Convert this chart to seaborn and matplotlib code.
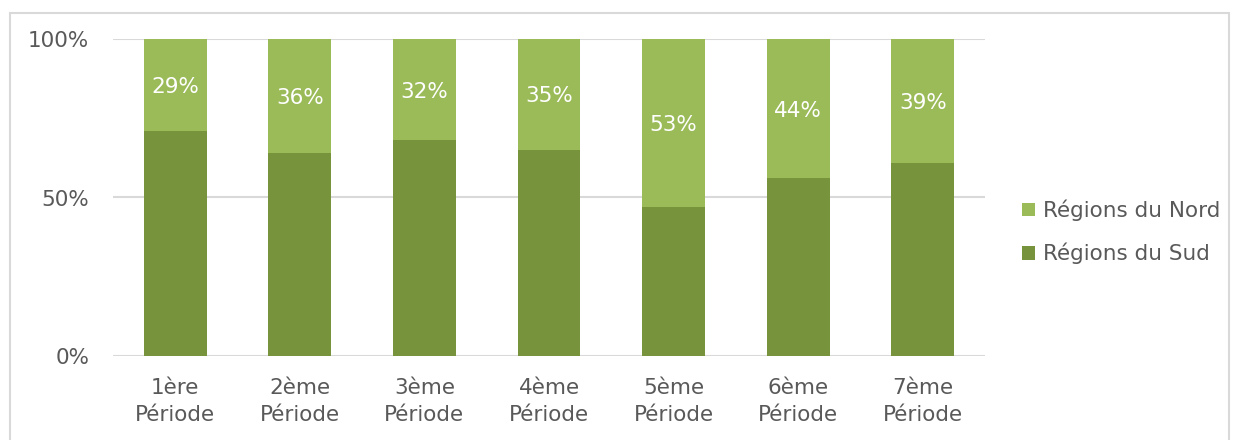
import matplotlib
matplotlib.use("Agg")
import matplotlib.pyplot as plt
import seaborn as sns
import pandas as pd
from matplotlib.patches import Patch, Rectangle
from matplotlib.ticker import PercentFormatter

# Data: share of each region group per period (percent)
periods = ["1ère\nPériode", "2ème\nPériode", "3ème\nPériode", "4ème\nPériode",
           "5ème\nPériode", "6ème\nPériode", "7ème\nPériode"]
nord = [29, 36, 32, 35, 53, 44, 39]
sud = [71, 64, 68, 65, 47, 56, 61]
series_names = ["Régions du Nord", "Régions du Sud"]

COL_NORD = "#9BBB59"
COL_SUD = "#77933C"
TXT = "#595959"
GRID = "#D9D9D9"

sns.set_theme(style="white")
plt.rcParams["font.family"] = ["DejaVu Sans"]

df = pd.DataFrame({"periode": periods, "nord": nord, "sud": sud})
df["total"] = df["nord"] + df["sud"]

fig = plt.figure(figsize=(12.4, 4.4), dpi=100)
ax = fig.add_axes([113 / 1240, 1 - 356 / 440, (985 - 113) / 1240, (356 - 39) / 440])

# Outer chart frame
fig.patches.append(Rectangle((10 / 1240, -0.05), (1229 - 10) / 1240, 1 - 13 / 440 + 0.05,
                             transform=fig.transFigure, fill=False,
                             edgecolor="#D9D9D9", linewidth=1.5))

# Stacked 100% bars: full height in the north colour, south share on top of it
sns.barplot(data=df, x="periode", y="total", color=COL_NORD, saturation=1,
            width=0.505, linewidth=0, ax=ax, zorder=2)
sns.barplot(data=df, x="periode", y="sud", color=COL_SUD, saturation=1,
            width=0.505, linewidth=0, ax=ax, zorder=3)

# Value labels centred in the north segment
for i, (s, n) in enumerate(zip(sud, nord)):
    ax.text(i, s + n / 2, f"{n}%", ha="center", va="center_baseline",
            color="white", fontsize=15.5, zorder=4)

ax.set_ylim(0, 100)
ax.set_xlim(-0.5, len(periods) - 0.5)
ax.set_yticks([0, 50, 100])
ax.yaxis.set_major_formatter(PercentFormatter(100, decimals=0))
for y in [0, 50, 100]:
    ax.axhline(y, color=GRID, linewidth=1.5, zorder=1)
ax.set_xlabel("")
ax.set_ylabel("")
for sp in ax.spines.values():
    sp.set_visible(False)
ax.tick_params(axis="y", length=0, pad=17, labelsize=15.5, labelcolor=TXT)
ax.tick_params(axis="x", length=0, pad=16, labelsize=15.5, labelcolor=TXT)
for lbl in ax.get_xticklabels():
    lbl.set_linespacing(1.45)

handles = [Patch(facecolor=COL_NORD, edgecolor="none"),
           Patch(facecolor=COL_SUD, edgecolor="none")]
leg = fig.legend(handles, series_names, loc="center left",
                 bbox_to_anchor=(1003 / 1240, 1 - 232 / 440), frameon=False,
                 fontsize=15.5, handlelength=0.6, handleheight=0.6,
                 handletextpad=0.35, labelspacing=1.0)
for t in leg.get_texts():
    t.set_color(TXT)

fig.savefig("out.png", dpi=100, facecolor="white")
